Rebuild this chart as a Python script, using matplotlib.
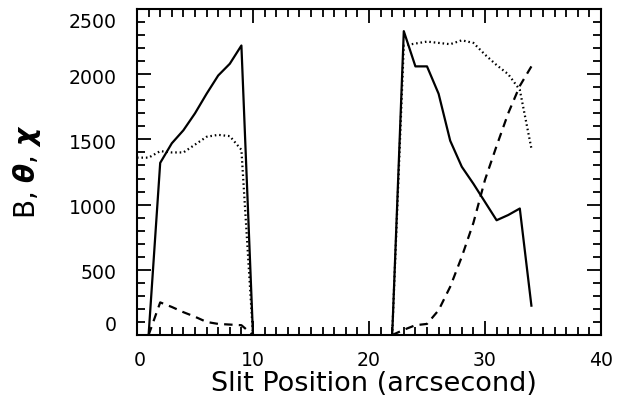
import matplotlib
matplotlib.use("Agg")
import matplotlib.pyplot as plt
from matplotlib.ticker import MultipleLocator
from matplotlib.transforms import ScaledTranslation

# --- data ---
x_B1 = [1, 2, 3, 4, 5, 6, 7, 8, 9, 10]
B1 = [0, 1320, 1470, 1570, 1700, 1850, 1990, 2080, 2220, 0]
x_B2 = [22, 23, 24, 25, 26, 27, 28, 29, 30, 31, 32, 33, 34]
B2 = [0, 2330, 2060, 2060, 1850, 1490, 1290, 1160, 1020, 880, 920, 970, 225]

x_T1 = [0, 1, 2, 3, 4, 5, 6, 7, 8, 9, 10]
T1 = [1360, 1360, 1410, 1400, 1400, 1460, 1520, 1535, 1525, 1420, 0]
x_T2 = [22, 23, 24, 25, 26, 27, 28, 29, 30, 31, 32, 33, 34]
T2 = [0, 2220, 2235, 2250, 2240, 2230, 2260, 2240, 2150, 2070, 2000, 1880, 1430]

x_C1 = [1, 2, 3, 4, 5, 6, 7, 8, 9, 10]
C1 = [0, 250, 215, 175, 140, 100, 85, 80, 75, 0]
x_C2 = [22, 23, 24, 25, 26, 27, 28, 29, 30, 31, 32, 33, 34]
C2 = [0, 40, 75, 85, 190, 370, 600, 860, 1190, 1450, 1700, 1910, 2060]

yticks = [0, 500, 1000, 1500, 2000, 2500]
xticks = [0, 10, 20, 30, 40]
xlabel = "Slit Position (arcsecond)"
ylabel = r"B, $\boldsymbol{\theta}$, $\boldsymbol{\chi}$"

plt.rcParams['font.family'] = ['DejaVu Sans']
fig = plt.figure(figsize=(6.17, 4.06), dpi=100)
ax = fig.add_axes([137/617, 1-336/406, (601-137)/617, (336-10)/406])

lw = 1.6
ax.plot(x_B1, B1, color='black', lw=lw)
ax.plot(x_B2, B2, color='black', lw=lw)
ax.plot(x_T1, T1, color='black', lw=lw, linestyle=(0, (0.7, 1.3)))
ax.plot(x_T2, T2, color='black', lw=lw, linestyle=(0, (0.7, 1.3)))
ax.plot(x_C1, C1, color='black', lw=lw, linestyle=(0, (3.8, 2.8)))
ax.plot(x_C2, C2, color='black', lw=lw, linestyle=(0, (3.8, 2.8)))

ax.set_xlim(0, 40)
ax.set_ylim(0, 2500)
ax.xaxis.set_major_locator(MultipleLocator(10))
ax.xaxis.set_minor_locator(MultipleLocator(1))
ax.yaxis.set_major_locator(MultipleLocator(500))
ax.yaxis.set_minor_locator(MultipleLocator(100))
ax.tick_params(which='both', direction='in', top=True, right=True, width=1.3)
ax.tick_params(which='major', length=10)
ax.tick_params(which='minor', length=5.5)
ax.tick_params(axis='both', labelleft=False, labelbottom=False)
for s in ax.spines.values():
    s.set_linewidth(1.5)

fs = 13.6
# y tick labels (the end labels sit slightly inward, as in the reference)
ydy = {0: 10, 2500: -12}   # pixels, positive = up
for v in yticks:
    off = ScaledTranslation(-20/100, ydy.get(v, -3)/100, fig.dpi_scale_trans)
    ax.text(0, v, str(v), transform=ax.get_yaxis_transform() + off,
            ha='right', va='center', fontsize=fs)
xdx = {0: 3}
for v in xticks:
    off = ScaledTranslation(xdx.get(v, 0)/100, -15/100, fig.dpi_scale_trans)
    ax.text(v, 0, str(v), transform=ax.get_xaxis_transform() + off,
            ha='center', va='top', fontsize=fs)

fig.text(374/617, 1-384/406, xlabel, ha='center', va='center', fontsize=19.5)
fig.text(27/617, 1-172/406, ylabel, ha='center', va='center', fontsize=20,
         rotation=90)

fig.savefig("out.png", dpi=100)
